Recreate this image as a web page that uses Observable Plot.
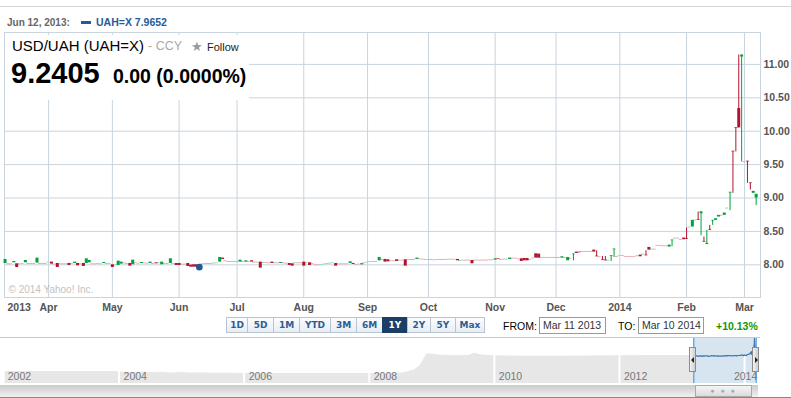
<!DOCTYPE html>
<html><head><meta charset="utf-8">
<script src="https://cdn.jsdelivr.net/npm/d3@7"></script>
<script src="https://cdn.jsdelivr.net/npm/@observablehq/plot@0.6"></script>
<style>
html,body{margin:0;padding:0;background:#fff}
#root{position:relative;width:791px;height:398px;overflow:hidden;font-family:Arial,"Liberation Sans",sans-serif}
.a{position:absolute;white-space:nowrap}
.btn{position:absolute;top:317px;height:16px;box-sizing:border-box;border:1px solid #b7c5d3;background:linear-gradient(#fbfcfe,#e8eef4);color:#2d5e93;font:bold 9px "DejaVu Sans",Verdana,sans-serif;text-align:center;line-height:14px}
.btn.sel{background:#1b3e66;border-color:#1b3e66;color:#fff}
.box{position:absolute;top:317px;height:17px;box-sizing:border-box;border:1px solid #9a9a9a;font-size:10.5px;color:#333;line-height:15px;padding-left:3px}
</style></head><body>
<div id="root">
  <div id="main" class="a" style="left:0;top:0"></div>
  <div id="nav" class="a" style="left:0;top:330px"></div>
</div>
<script>
// ---------- data ----------
// daily candles, one per trading day from Mar 11 2013
const opens = [
 8.02,8.015,8.015,8.03,8.015,8.015,8.02,8.03,8.02,8.02,
 8.02,8.025,8.02,8.02,8.02,8.04,8.04,8.01,8.02,8.015,
 8.015,8.015,8.02,8.02,8.02,8.02,8.015,8.02,8.02,8.03,
 8.015,8.015,8.02,8.015,8.02,8.02,8.02,8.0,8.0,7.99,
 8.01,8.03,8.02,8.02,8.0,8.03,8.025,8.02,8.03,8.025,
 8.02,8.02,8.03,8.03,8.0,8.02,8.02,8.02,8.02,8.02,
 8.02,8.01,8.01,8.02,7.995,8.0,8.0,7.97,8.015,8.02,
 8.02,8.02,8.025,8.03,8.04,8.10,8.06,8.05,8.05,8.05,
 8.05,8.04,8.05,8.04,8.05,8.06,8.04,8.04,8.04,8.035,
 8.035,8.03,8.04,8.03,8.03,8.02,8.03,8.025,8.02,8.015,
 8.03,8.03,8.03,8.04,8.03,8.03,8.02,8.0,8.0,8.005,
 8.01,8.02,8.025,8.03,8.02,8.015,8.015,8.015,8.015,8.02,
 8.02,8.005,8.01,8.015,8.03,8.04,8.05,8.05,8.05,8.06,
 8.08,8.08,8.075,8.06,8.06,8.075,8.07,8.07,8.075,8.08,
 8.08,8.08,8.08,8.09,8.085,8.08,8.08,8.08,8.075,8.08,
 8.08,8.08,8.08,8.085,8.085,8.08,8.08,8.065,8.07,8.07,
 8.07,8.065,8.07,8.07,8.07,8.07,8.07,8.075,8.075,8.07,
 8.09,8.08,8.085,8.085,8.08,8.10,8.10,8.09,8.09,8.095,
 8.095,8.08,8.10,8.165,8.16,8.11,8.11,8.11,8.11,8.11,
 8.11,8.11,8.10,8.11,8.06,8.10,8.15,8.19,8.19,8.20,
 8.20,8.20,8.20,8.22,8.13,8.12,8.08,8.07,8.07,8.125,
 8.225,8.125,8.14,8.14,8.125,8.125,8.125,8.125,8.135,8.145,
 8.16,8.145,8.26,8.235,8.235,8.29,8.29,8.285,8.285,8.265,
 8.36,8.40,8.40,8.38,8.40,8.39,8.565,8.565,8.67,8.675,
 8.765,8.35,8.305,8.525,8.655,8.665,8.715,8.74,8.74,8.85,
 9.075,9.70,10.05,10.34,11.11,9.545,9.55,9.225,9.07,9.0
];
const closes = [
 8.08,8.015,8.015,8.05,7.96,8.015,8.02,8.065,8.02,8.02,
 8.02,8.10,8.02,8.02,8.02,8.04,8.01,8.01,7.96,8.015,
 8.015,8.015,7.99,8.02,8.04,7.985,8.015,7.975,8.09,8.065,
 8.015,8.015,8.02,8.015,8.035,8.02,8.02,7.96,8.0,8.055,
 8.04,8.03,8.02,7.98,8.07,8.03,8.025,8.035,8.03,8.025,
 8.04,8.02,8.015,8.03,8.04,8.02,8.02,8.09,8.02,7.99,
 7.99,8.01,8.01,7.975,7.965,7.965,7.965,7.9652,8.015,8.02,
 8.02,8.02,8.025,8.03,8.11,8.08,8.06,8.05,8.05,8.05,
 8.05,8.07,8.05,8.06,8.05,8.04,8.04,8.04,7.95,8.035,
 8.035,8.03,8.02,8.03,8.03,8.035,8.03,8.025,7.99,7.98,
 8.03,8.03,8.03,7.98,8.03,7.99,8.02,8.0,8.0,8.005,
 8.01,8.02,8.025,8.03,7.98,8.015,8.015,8.015,8.015,8.045,
 8.005,8.005,8.01,8.0,8.03,8.04,8.05,8.05,8.05,8.11,
 8.08,8.04,8.045,8.06,8.06,8.05,8.07,8.07,7.98,8.08,
 8.08,8.08,8.10,8.09,8.085,8.08,8.08,8.08,8.075,8.08,
 8.08,8.08,8.08,8.085,8.085,8.08,8.06,8.065,8.07,8.07,
 8.07,8.015,8.07,8.07,8.07,8.07,8.07,8.075,8.075,8.09,
 8.08,8.08,8.085,8.085,8.10,8.10,8.10,8.09,8.05,8.06,
 8.06,8.08,8.10,8.10,8.10,8.11,8.11,8.11,8.11,8.11,
 8.11,8.11,8.12,8.11,8.11,8.10,8.16,8.17,8.18,8.20,
 8.20,8.20,8.20,8.19,8.12,8.12,8.07,8.06,8.07,8.135,
 8.235,8.125,8.14,8.14,8.125,8.125,8.125,8.125,8.135,8.12,
 8.16,8.135,8.22,8.235,8.235,8.29,8.29,8.285,8.285,8.295,
 8.37,8.40,8.40,8.38,8.375,8.38,8.565,8.665,8.67,8.665,
 8.79,8.34,8.32,8.515,8.665,8.69,8.74,8.74,8.775,8.85,
 9.085,9.69,10.04,10.05,11.14,9.545,9.54,9.215,9.10,9.055
];
// long wicks: [day index, low, high]
const wicks = [
 [196,8.06,8.16],[204,8.12,8.21],[206,8.07,8.125],[207,8.06,8.125],[209,8.05,8.135],
 [210,8.11,8.235],[221,8.135,8.21],[230,8.27,8.37],[235,8.38,8.55],[239,8.665,8.79],
 [240,8.435,8.80],[241,8.34,8.415],[242,8.305,8.515],[243,8.515,8.59],[244,8.59,8.665],
 [250,8.81,9.085],[251,9.07,9.70],[252,9.69,10.05],[253,10.05,11.14],[254,9.54,11.14],
 [256,9.22,9.55],[257,9.12,9.225],[259,8.885,9.055]
];
const startDate = "2013-03-11", endDate = "2014-03-10";
const monthKeys = ["2013-04","2013-05","2013-06","2013-07","2013-08","2013-09","2013-10","2013-11","2013-12","2014-01","2014-02","2014-03"];
const monthLabels = ["Apr","May","Jun","Jul","Aug","Sep","Oct","Nov","Dec","2014","Feb","Mar"];
const yTicks = [8.0, 8.5, 9.0, 9.5, 10.0, 10.5, 11.0];
const markerDate = "2013-06-12", markerValue = 7.9652;
// overview (navigator) series: decimal year, rate
const navT = [2002.18,2002.5,2003.0,2003.5,2003.9,2004.1,2004.25,2004.4,2004.55,2004.7,2004.85,2005.0,2005.15,2005.3,2005.5,2005.75,2006.0,2006.5,2007.0,2007.5,2008.0,2008.3,2008.5,2008.62,2008.72,2008.8,2008.86,2008.92,2009.05,2009.2,2009.4,2009.6,2009.68,2009.8,2010.0,2010.5,2011.0,2011.5,2012.0,2012.5,2013.0,2013.19];
const navV = [5.38,5.38,5.38,5.37,5.37,5.25,5.2,5.28,5.15,5.22,5.12,5.2,5.1,5.15,5.05,5.08,5.0,5.0,5.0,5.0,5.0,5.0,5.05,5.3,5.6,6.2,7.2,8.4,8.3,8.1,8.05,8.1,8.5,8.2,8.05,8.0,8.0,8.02,8.05,8.1,8.1,8.05];
const navYearLabels = ["2002","2004","2006","2008","2010","2012","2014"];

// ---------- derived ----------
const dates = d3.utcDay.range(new Date(startDate), d3.utcDay.offset(new Date(endDate), 1))
  .filter(d => d.getUTCDay() !== 0 && d.getUTCDay() !== 6);
const fmtYM = d3.utcFormat("%Y-%m"), fmtYMD = d3.utcFormat("%Y-%m-%d");
const monthIdx = monthKeys.map(k => dates.findIndex(d => fmtYM(d) === k));
const labelByIdx = new Map(monthIdx.map((m, k) => [m, monthLabels[k]]));
const GREEN = "#00a23a", RED = "#b3122e", LGREEN = "#9ed8aa", LPINK = "#eaa9b7", GRID = "#c8d4de";
const candles = opens.map((o, i) => {
  const c = closes[i], w = wicks.find(x => x[0] === i);
  return {i, o, c, up: c >= o, l: Math.min(o, c, w ? w[1] : Infinity), h: Math.max(o, c, w ? w[2] : -Infinity), w: !!w,
          light: i > 0 && c > closes[i - 1] ? LGREEN : LPINK};
});
const doji = candles.filter(d => Math.abs(d.c - d.o) < 0.004);
const bodies = candles.filter(d => Math.abs(d.c - d.o) >= 0.004);
const withWick = candles.filter(d => d.w);
const markerIdx = dates.findIndex(d => fmtYMD(d) === markerDate);

const main = Plot.plot({
  width: 791, height: 315,
  marginTop: 32, marginRight: 31, marginBottom: 18, marginLeft: 4,
  x: {type: "linear", domain: [-0.2, dates.length - 0.5]},
  y: {domain: [7.5105, 11.4775]},
  style: "font-family: Arial, 'Liberation Sans', sans-serif; font-size: 10.5px; font-weight: bold; color: #555; background: transparent;",
  marks: [
    Plot.gridX(monthIdx, {stroke: GRID, strokeOpacity: 1}),
    Plot.gridY(yTicks, {stroke: GRID, strokeOpacity: 1}),
    Plot.frame({stroke: GRID}),
    Plot.ruleY(doji, {x1: d => d.i - 0.5, x2: d => d.i + 0.5, y: "c", stroke: d => d.light, strokeWidth: 1}),
    Plot.ruleX(withWick, {x: "i", y1: "l", y2: "h", stroke: d => d.up ? GREEN : RED, strokeWidth: 1}),
    Plot.ruleX(bodies, {x: "i", y1: "o", y2: "c", stroke: d => d.up ? GREEN : RED, strokeWidth: 3}),
    Plot.dot([{i: markerIdx, v: markerValue}], {x: "i", y: "v", r: 3.3, fill: "#1e5a96", stroke: "none"}),
    Plot.axisX(monthIdx, {tickSize: 0, tickPadding: 6.5, tickFormat: d => labelByIdx.get(d), label: null}),
    Plot.axisY(yTicks, {anchor: "right", tickSize: 0, tickPadding: 3, tickFormat: d => d.toFixed(2), label: null}),
    Plot.text([fmtYM(dates[0]).slice(0, 4)], {frameAnchor: "bottom-left", text: d => d, textAnchor: "start", lineAnchor: "top", dx: 3, dy: 6.5}),
    Plot.text(["© 2014 Yahoo! Inc."], {frameAnchor: "bottom-left", text: d => d, textAnchor: "start", lineAnchor: "bottom", dx: 4, dy: -4.5, fill: "#c2c2c2", fontWeight: "normal", fontSize: 10})
  ]
});
document.getElementById("main").appendChild(main);

// navigator
const yearFrac = d => { const y0 = d3.utcYear.floor(d), y1 = d3.utcYear.offset(y0, 1); return y0.getUTCFullYear() + (d - y0) / (y1 - y0); };
const navData = navT.map((t, k) => ({t, v: navV[k]}));
const selLine = closes.map((v, i) => ({t: yearFrac(dates[i]), v}));
const sel = {t0: yearFrac(dates[0]), t1: yearFrac(dates[dates.length - 1])};
const yrs = navYearLabels.map(Number);
const sepOut = yrs.filter(y => y < sel.t0 && y > navT[0]);
const sepIn = selLine.filter((d, i) => i > 0 && Math.floor(d.t) > Math.floor(selLine[i - 1].t));
const NB = 3.3;
const nav = Plot.plot({
  width: 791, height: 68, marginTop: 7, marginBottom: 15, marginLeft: 0, marginRight: 0,
  x: {domain: [navT[0], 2014.22], range: [4.7, 757.8], axis: null},
  y: {domain: [NB, 11.2], range: [53, 7], axis: null},
  style: "font-family: Arial, 'Liberation Sans', sans-serif; font-size: 10.5px; color: #777; background: transparent;",
  marks: [
    Plot.areaY(navData, {x: "t", y1: () => NB, y2: "v", fill: "#e7e7e7"}),
    Plot.ruleX(sepOut, {stroke: "white", strokeWidth: 2}),
    Plot.rect([sel], {x1: "t0", x2: "t1", fill: "#d7e5f1"}),
    Plot.ruleX(sepIn, {x: "t", y1: () => NB, y2: "v", stroke: "white", strokeWidth: 2}),
    Plot.lineY(selLine, {x: "t", y: "v", stroke: "#4a77aa", strokeWidth: 1.2}),
    Plot.ruleX([sel.t0, sel.t1], {stroke: "#2b8fe2"}),
    Plot.text(navYearLabels.slice(0, 1), {x: () => navT[0], text: d => d, frameAnchor: "bottom", lineAnchor: "bottom", textAnchor: "start", dx: 2.5, dy: -4}),
    Plot.text(navYearLabels.slice(1, -1), {x: d => +d, text: d => d, frameAnchor: "bottom", lineAnchor: "bottom", textAnchor: "start", dx: 4.5, dy: -4}),
    Plot.text(navYearLabels.slice(-1), {x: () => 2014.22, text: d => d, frameAnchor: "bottom", lineAnchor: "bottom", textAnchor: "end", dx: -1, dy: -4})
  ]
});
document.getElementById("nav").appendChild(nav);

// ---------- page chrome ----------
const root = document.getElementById("root");
function add(html) { root.insertAdjacentHTML("beforeend", html); }
add('<div class="a" style="left:0;top:6px;width:791px;height:1px;background:#d4d4d4"></div>');
add('<div class="a" style="left:7px;top:17.5px;font:bold 10px/10px Arial,sans-serif;color:#666">Jun 12, 2013:</div>');
add('<div class="a" style="left:81px;top:21px;width:10px;height:3px;background:#1f5c99"></div>');
add('<div class="a" style="left:96px;top:17.1px;font:bold 10.5px/10.5px Arial,sans-serif;color:#1f5c99">UAH=X 7.9652</div>');
add('<div class="a" style="left:5px;top:35px;width:244px;height:65px;background:#fff"></div>');
add('<div class="a" style="left:12px;top:38.3px;font:15px/15px Arial,sans-serif;color:#000">USD/UAH (UAH=X)</div>');
add('<div class="a" style="left:148px;top:40.4px;font:12.5px/12.5px Arial,sans-serif;color:#aaa">- CCY</div>');
add('<div class="a" style="left:191px;top:40px;font:13px/13px \'DejaVu Sans\',sans-serif;color:#999">★</div>');
add('<div class="a" style="left:207px;top:41.7px;font:11px/11px Arial,sans-serif;color:#222">Follow</div>');
add('<div class="a" style="left:11px;top:59px;font:bold 29px/29px Arial,sans-serif;color:#000">9.2405</div>');
add('<div class="a" style="left:113px;top:67px;font:bold 19.5px/19.5px Arial,sans-serif;color:#000">0.00 (0.0000%)</div>');
const btns = ["1D","5D","1M","YTD","3M","6M","1Y","2Y","5Y","Max"];
const edges = [226,247,273,299,330,356,382,407,430,455,484];
btns.forEach((b, k) => add(`<div class="btn${b === "1Y" ? " sel" : ""}" style="left:${edges[k]}px;width:${edges[k+1]-edges[k]+1}px">${b}</div>`));
add('<div class="a" style="left:503px;top:321.1px;font:10.5px/10.5px Arial,sans-serif;color:#000">FROM:</div>');
add('<div class="box" style="left:539px;width:67px">Mar 11 2013</div>');
add('<div class="a" style="left:618px;top:321.1px;font:10.5px/10.5px Arial,sans-serif;color:#000">TO:</div>');
add('<div class="box" style="left:638px;width:66px">Mar 10 2014</div>');
add('<div class="a" style="left:716px;top:321.1px;font:bold 10.5px/10.5px Arial,sans-serif;color:#0a9a0a">+10.13%</div>');
// navigator chrome
add('<div class="a" style="left:0;top:337px;width:760px;height:1px;background:#c9c9c9"></div>');
add('<div class="a" style="left:0;top:385px;width:758px;height:12px;background:linear-gradient(#cbcbcb,#f1f1f1)"></div>');
add('<div class="a" style="left:695px;top:385px;width:57px;height:12px;box-sizing:border-box;border:1px solid #a9a9a9;background:linear-gradient(#f5f5f5,#dcdcdc);text-align:center;font:7px/10px Arial;color:#aaa;letter-spacing:2px">● ● ●</div>');
add('<div class="a" style="left:0;top:397px;width:791px;height:1px;background:#7287c6"></div>');
add('<div class="a" style="left:689px;top:347px;width:7px;height:25px;box-sizing:border-box;border:1px solid #8c8c8c;background:linear-gradient(90deg,#f3f3f3,#cfcfcf)"><div style="position:absolute;left:1px;top:9px;width:0;height:0;border-top:3px solid transparent;border-bottom:3px solid transparent;border-right:3px solid #222"></div></div>');
add('<div class="a" style="left:752px;top:347px;width:7px;height:25px;box-sizing:border-box;border:1px solid #8c8c8c;background:linear-gradient(90deg,#f3f3f3,#cfcfcf)"><div style="position:absolute;left:2px;top:9px;width:0;height:0;border-top:3px solid transparent;border-bottom:3px solid transparent;border-left:3px solid #222"></div></div>');
</script>
</body></html>
